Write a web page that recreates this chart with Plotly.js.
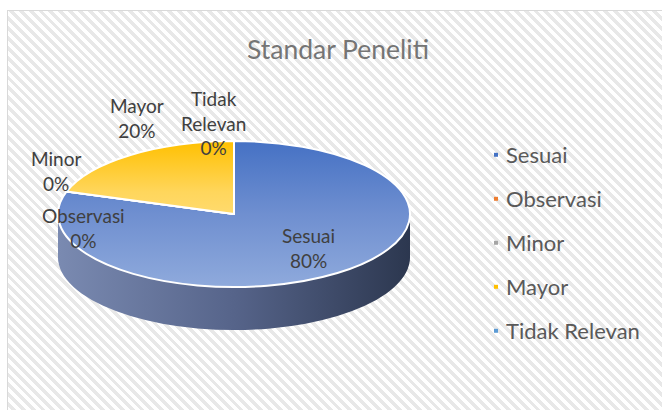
<!DOCTYPE html>
<html><head><meta charset="utf-8">
<script src="https://cdn.plot.ly/plotly-3.0.1.min.js"></script>
<style>
html,body{margin:0;padding:0;background:#fff;}
#wrap{position:relative;width:662px;height:410px;overflow:hidden;background:#fff;}
#box{position:absolute;left:7px;top:10px;width:720px;height:460px;border:1px solid #d9d9d9;
 background:repeating-linear-gradient(45deg,#ffffff 0px,#ffffff 3.5px,#e8e8e8 3.5px,#e8e8e8 7px);}
#chart{position:absolute;left:0;top:0;width:662px;height:410px;}
</style></head><body>
<div id="wrap"><div id="box"></div><div id="chart"></div></div>
<script>
// ---- data ----
const categories = ['Sesuai', 'Observasi', 'Minor', 'Mayor', 'Tidak Relevan'];
const values = [80, 0, 0, 20, 0];
const chartTitle = 'Standar Peneliti';

// ---- styles ----
const sliceColors = ['#4472c4', '#ed7d31', '#a5a5a5', '#ffc000', '#5b9bd5'];
const sideColor = '#56648a';
const labelPos = [[308, 248], [83, 228], [56, 171], [137, 118], [214, 123]]; // px centres of data labels
const W = 662, H = 410;
const pieCx = 234, pieCy = 214, pieRx = 176, pieRy = 73, depth = 43;
const font = 'Lato, "Open Sans", sans-serif';

const total = values.reduce((a, b) => a + b, 0);
const domain = {
  x: [(pieCx - pieRx) / W, (pieCx + pieRx) / W],
  y: [1 - (pieCy + pieRx) / H, 1 - (pieCy - pieRx) / H]
};

const sideOffsets = [];
for (let o = depth; o >= 2; o -= 3) sideOffsets.push(o);

const traces = [];
sideOffsets.forEach(() => traces.push({
  type: 'pie', labels: categories, values: values, sort: false, direction: 'clockwise', rotation: 0,
  marker: {colors: categories.map(() => sideColor), line: {width: 0}},
  textinfo: 'none', hoverinfo: 'skip', showlegend: false, domain: domain
}));
const mainIdx = traces.length;
traces.push({
  type: 'pie', labels: categories, values: values, sort: false, direction: 'clockwise', rotation: 0,
  marker: {colors: sliceColors, line: {color: '#ffffff', width: 2}},
  textinfo: 'none', hoverinfo: 'label+percent', showlegend: true, domain: domain
});

function wrapLabel(s) { return s.length > 9 ? s.replace(/ /g, '<br>') : s; }
const annotations = categories.map((c, i) => ({
  text: wrapLabel(c) + '<br>' + Math.round(values[i] / total * 100) + '%',
  x: labelPos[i][0] / W, y: 1 - labelPos[i][1] / H, xref: 'paper', yref: 'paper',
  xanchor: 'center', yanchor: 'middle', showarrow: false, align: 'center',
  font: {family: font, size: 19, color: '#404040'}
}));

const layout = {
  width: W, height: H, margin: {l: 0, r: 0, t: 0, b: 0, autoexpand: false},
  paper_bgcolor: 'rgba(0,0,0,0)', plot_bgcolor: 'rgba(0,0,0,0)',
  title: {text: chartTitle, x: 338 / W, xanchor: 'center', y: 1 - 50 / H, yanchor: 'middle', yref: 'container',
    font: {family: font, size: 26.5, color: '#757575'}},
  showlegend: true,
  legend: {x: 466 / W, xanchor: 'left', y: 1 - 134 / H, yanchor: 'top', xref: 'container', yref: 'container',
    bgcolor: 'rgba(0,0,0,0)', font: {family: font, size: 22, color: '#595959'}},
  annotations: annotations
};

function post(gd) {
  const NS = 'http://www.w3.org/2000/svg';
  const svg = gd.querySelector('.main-svg');
  let defs = svg.querySelector('defs');
  if (!defs) { defs = document.createElementNS(NS, 'defs'); svg.prepend(defs); }
  const cd0 = gd.calcdata[mainIdx][0];
  const cx = cd0.cx, cy = cd0.cy, r = cd0.r;
  const k = pieRy / r;
  function grad(id, x1, y1, x2, y2, stops) {
    const g = document.createElementNS(NS, 'linearGradient');
    g.setAttribute('id', id); g.setAttribute('gradientUnits', 'userSpaceOnUse');
    g.setAttribute('x1', x1); g.setAttribute('y1', y1); g.setAttribute('x2', x2); g.setAttribute('y2', y2);
    stops.forEach(s => { const st = document.createElementNS(NS, 'stop');
      st.setAttribute('offset', s[0]); st.setAttribute('stop-color', s[1]); g.appendChild(st); });
    defs.appendChild(g);
  }
  grad('gBlue', cx, cy - r, cx, cy + r, [[0, '#4571c4'], [0.5, '#6f8fd0'], [1, '#8faadc']]);
  grad('gYel', cx, cy - r, cx, cy + r, [[0, '#ffc000'], [0.35, '#ffd65c'], [1, '#ffe9a8']]);
  grad('gSide', cx - r, cy, cx + r, cy, [[0, '#7a8ab1'], [0.5, '#56648a'], [1, '#2c374f']]);
  const fills = {0: 'url(#gBlue)', 3: 'url(#gYel)'};
  const tgs = gd.querySelectorAll('.pielayer .trace');
  tgs.forEach((tg, ti) => {
    const isMain = ti === mainIdx;
    const off = isMain ? 0 : sideOffsets[ti];
    tg.querySelectorAll('path.surface').forEach(p => {
      p.setAttribute('transform', 'matrix(1,0,0,' + k + ',0,' + (cy * (1 - k) + off) + ')');
      p.style.vectorEffect = 'non-scaling-stroke';
      const pt = p.__data__;
      if (isMain) { if (pt && fills[pt.i] !== undefined) p.style.fill = fills[pt.i]; }
      else p.style.fill = 'url(#gSide)';
    });
  });
  // legend spacing & small markers
  const leg = gd.querySelector('.legend');
  if (leg) {
    const sb = leg.querySelector('.scrollbox');
    if (sb) sb.removeAttribute('clip-path');
    leg.removeAttribute('clip-path');
    leg.querySelectorAll('.bg').forEach(b => b.style.fill = 'rgba(0,0,0,0)');
    const items = leg.querySelectorAll('.traces');
    let first = null;
    items.forEach((t, i) => {
      const m = /translate\(([-\d.]+)[ ,]+([-\d.]+)\)/.exec(t.getAttribute('transform') || '');
      const tx = m ? +m[1] : 0, ty = m ? +m[2] : 0;
      if (first === null) first = ty;
      t.setAttribute('transform', 'translate(' + tx + ',' + (first + i * 44) + ')');
    });
    leg.querySelectorAll('.legendpoints path').forEach(p => {
      p.setAttribute('transform', 'translate(30,0) scale(0.33)');
      p.style.strokeWidth = '0';
    });
  }
}

Plotly.newPlot('chart', traces, layout, {staticPlot: true, displayModeBar: false}).then(post);
</script>
</body></html>
